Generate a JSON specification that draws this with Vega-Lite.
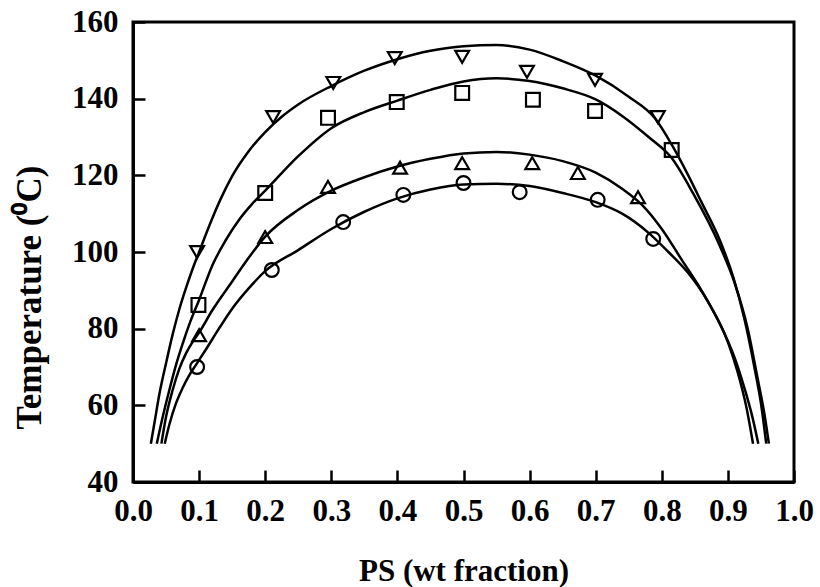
{
  "$schema": "https://vega.github.io/schema/vega-lite/v6.json",
  "width": 661,
  "height": 460,
  "autosize": {"type": "none"},
  "padding": {"left": 133, "top": 22, "right": 26, "bottom": 105},
  "background": "white",
  "config": {
    "view": {"stroke": "black", "strokeWidth": 3},
    "axis": {
      "grid": false,
      "domainColor": "black",
      "domainWidth": 3,
      "tickColor": "black",
      "tickWidth": 2.5,
      "tickSize": -12,
      "labelFont": "Liberation Serif",
      "labelFontWeight": "bold",
      "labelFontSize": 31,
      "labelColor": "black",
      "titleFont": "Liberation Serif",
      "titleFontWeight": "bold",
      "titleColor": "black"
    }
  },
  "datasets": {
    "curves": [
      {"s": "D", "x": 0.027, "t": 50}, {"s": "D", "x": 0.033, "t": 56}, {"s": "D", "x": 0.04, "t": 63}, {"s": "D", "x": 0.05, "t": 71}, {"s": "D", "x": 0.06, "t": 78.5}, {"s": "D", "x": 0.07, "t": 85}, {"s": "D", "x": 0.08, "t": 90.5}, {"s": "D", "x": 0.09, "t": 95.5}, {"s": "D", "x": 0.1, "t": 100}, {"s": "D", "x": 0.12, "t": 108.8}, {"s": "D", "x": 0.132, "t": 113.6}, {"s": "D", "x": 0.15, "t": 119.8}, {"s": "D", "x": 0.175, "t": 126.3}, {"s": "D", "x": 0.2, "t": 131.3}, {"s": "D", "x": 0.225, "t": 135.3}, {"s": "D", "x": 0.25, "t": 138.5}, {"s": "D", "x": 0.3, "t": 143.3}, {"s": "D", "x": 0.35, "t": 147.3}, {"s": "D", "x": 0.4, "t": 150.3}, {"s": "D", "x": 0.45, "t": 152.5}, {"s": "D", "x": 0.5, "t": 153.7}, {"s": "D", "x": 0.55, "t": 154}, {"s": "D", "x": 0.6, "t": 152.8}, {"s": "D", "x": 0.65, "t": 149.8}, {"s": "D", "x": 0.7, "t": 146}, {"s": "D", "x": 0.75, "t": 140.5}, {"s": "D", "x": 0.79, "t": 134.8}, {"s": "D", "x": 0.815, "t": 128}, {"s": "D", "x": 0.84, "t": 120}, {"s": "D", "x": 0.86, "t": 113}, {"s": "D", "x": 0.888, "t": 103}, {"s": "D", "x": 0.908, "t": 93.5}, {"s": "D", "x": 0.925, "t": 82.5}, {"s": "D", "x": 0.94, "t": 70}, {"s": "D", "x": 0.95, "t": 60.5}, {"s": "D", "x": 0.958, "t": 50},
      {"s": "S", "x": 0.036, "t": 50}, {"s": "S", "x": 0.045, "t": 57}, {"s": "S", "x": 0.055, "t": 64}, {"s": "S", "x": 0.065, "t": 70.5}, {"s": "S", "x": 0.075, "t": 76}, {"s": "S", "x": 0.086, "t": 81.5}, {"s": "S", "x": 0.1, "t": 87.5}, {"s": "S", "x": 0.12, "t": 96.5}, {"s": "S", "x": 0.14, "t": 103}, {"s": "S", "x": 0.16, "t": 108.3}, {"s": "S", "x": 0.18, "t": 112.5}, {"s": "S", "x": 0.2, "t": 116}, {"s": "S", "x": 0.25, "t": 125}, {"s": "S", "x": 0.3, "t": 132.3}, {"s": "S", "x": 0.35, "t": 136.5}, {"s": "S", "x": 0.4, "t": 139.5}, {"s": "S", "x": 0.45, "t": 142.3}, {"s": "S", "x": 0.5, "t": 144.5}, {"s": "S", "x": 0.55, "t": 145.3}, {"s": "S", "x": 0.6, "t": 144.6}, {"s": "S", "x": 0.65, "t": 142.7}, {"s": "S", "x": 0.7, "t": 139.8}, {"s": "S", "x": 0.74, "t": 135.5}, {"s": "S", "x": 0.78, "t": 130}, {"s": "S", "x": 0.815, "t": 124.5}, {"s": "S", "x": 0.847, "t": 115.4}, {"s": "S", "x": 0.888, "t": 101.5}, {"s": "S", "x": 0.91, "t": 92}, {"s": "S", "x": 0.93, "t": 80}, {"s": "S", "x": 0.945, "t": 67}, {"s": "S", "x": 0.955, "t": 58}, {"s": "S", "x": 0.962, "t": 50},
      {"s": "U", "x": 0.043, "t": 50}, {"s": "U", "x": 0.05, "t": 57}, {"s": "U", "x": 0.06, "t": 64}, {"s": "U", "x": 0.07, "t": 69.5}, {"s": "U", "x": 0.08, "t": 73.5}, {"s": "U", "x": 0.09, "t": 76.5}, {"s": "U", "x": 0.1, "t": 79}, {"s": "U", "x": 0.12, "t": 84.8}, {"s": "U", "x": 0.15, "t": 92.3}, {"s": "U", "x": 0.175, "t": 98.5}, {"s": "U", "x": 0.2, "t": 104}, {"s": "U", "x": 0.25, "t": 111}, {"s": "U", "x": 0.3, "t": 116}, {"s": "U", "x": 0.35, "t": 119.5}, {"s": "U", "x": 0.4, "t": 122.3}, {"s": "U", "x": 0.45, "t": 124.3}, {"s": "U", "x": 0.5, "t": 125.7}, {"s": "U", "x": 0.55, "t": 126.1}, {"s": "U", "x": 0.6, "t": 125.4}, {"s": "U", "x": 0.65, "t": 123.7}, {"s": "U", "x": 0.7, "t": 120.7}, {"s": "U", "x": 0.74, "t": 116.5}, {"s": "U", "x": 0.77, "t": 112.3}, {"s": "U", "x": 0.8, "t": 106}, {"s": "U", "x": 0.83, "t": 98}, {"s": "U", "x": 0.86, "t": 90}, {"s": "U", "x": 0.89, "t": 80.5}, {"s": "U", "x": 0.91, "t": 72.5}, {"s": "U", "x": 0.925, "t": 64.5}, {"s": "U", "x": 0.937, "t": 57}, {"s": "U", "x": 0.946, "t": 50},
      {"s": "C", "x": 0.048, "t": 50}, {"s": "C", "x": 0.055, "t": 55}, {"s": "C", "x": 0.065, "t": 60.5}, {"s": "C", "x": 0.075, "t": 64.5}, {"s": "C", "x": 0.085, "t": 67.8}, {"s": "C", "x": 0.095, "t": 70.5}, {"s": "C", "x": 0.11, "t": 74.5}, {"s": "C", "x": 0.13, "t": 80}, {"s": "C", "x": 0.15, "t": 85.2}, {"s": "C", "x": 0.175, "t": 90.5}, {"s": "C", "x": 0.2, "t": 95}, {"s": "C", "x": 0.25, "t": 100.5}, {"s": "C", "x": 0.3, "t": 106}, {"s": "C", "x": 0.35, "t": 110.5}, {"s": "C", "x": 0.4, "t": 114}, {"s": "C", "x": 0.45, "t": 116.3}, {"s": "C", "x": 0.5, "t": 117.6}, {"s": "C", "x": 0.55, "t": 117.8}, {"s": "C", "x": 0.6, "t": 117.2}, {"s": "C", "x": 0.65, "t": 115.4}, {"s": "C", "x": 0.7, "t": 113}, {"s": "C", "x": 0.74, "t": 110}, {"s": "C", "x": 0.78, "t": 105}, {"s": "C", "x": 0.81, "t": 100}, {"s": "C", "x": 0.84, "t": 94.5}, {"s": "C", "x": 0.87, "t": 87}, {"s": "C", "x": 0.9, "t": 76.5}, {"s": "C", "x": 0.915, "t": 68.5}, {"s": "C", "x": 0.928, "t": 59.5}, {"s": "C", "x": 0.938, "t": 50}
    ],
    "points": [
      {"s": "D", "x": 0.097, "t": 100}, {"s": "D", "x": 0.212, "t": 135.2}, {"s": "D", "x": 0.303, "t": 144.1}, {"s": "D", "x": 0.396, "t": 150.6}, {"s": "D", "x": 0.498, "t": 150.9}, {"s": "D", "x": 0.596, "t": 147}, {"s": "D", "x": 0.699, "t": 144.9}, {"s": "D", "x": 0.794, "t": 135.2},
      {"s": "S", "x": 0.099, "t": 86.2}, {"s": "S", "x": 0.2, "t": 115.4}, {"s": "S", "x": 0.295, "t": 135}, {"s": "S", "x": 0.399, "t": 139.1}, {"s": "S", "x": 0.498, "t": 141.5}, {"s": "S", "x": 0.605, "t": 139.7}, {"s": "S", "x": 0.699, "t": 136.8}, {"s": "S", "x": 0.815, "t": 126.6},
      {"s": "U", "x": 0.1, "t": 78.3}, {"s": "U", "x": 0.2, "t": 103.9}, {"s": "U", "x": 0.295, "t": 117}, {"s": "U", "x": 0.404, "t": 122}, {"s": "U", "x": 0.498, "t": 123.2}, {"s": "U", "x": 0.604, "t": 123.2}, {"s": "U", "x": 0.673, "t": 120.6}, {"s": "U", "x": 0.764, "t": 114.3},
      {"s": "C", "x": 0.097, "t": 70}, {"s": "C", "x": 0.21, "t": 95.3}, {"s": "C", "x": 0.318, "t": 107.8}, {"s": "C", "x": 0.409, "t": 114.9}, {"s": "C", "x": 0.5, "t": 118}, {"s": "C", "x": 0.585, "t": 115.6}, {"s": "C", "x": 0.703, "t": 113.6}, {"s": "C", "x": 0.787, "t": 103.4}
    ]
  },
  "encoding": {
    "x": {
      "field": "x", "type": "quantitative",
      "scale": {"domain": [0, 1], "nice": false, "zero": false},
      "axis": {
        "values": [0, 0.1, 0.2, 0.3, 0.4, 0.5, 0.6, 0.7, 0.8, 0.9, 1.0],
        "format": ".1f",
        "labelPadding": 26,
        "labelFlush": false,
        "title": "PS (wt fraction)",
        "titleFontSize": 31,
        "titleBaseline": "alphabetic",
        "titleY": 98
      }
    },
    "y": {
      "field": "t", "type": "quantitative",
      "scale": {"domain": [40, 160], "nice": false, "zero": false},
      "axis": {
        "values": [40, 60, 80, 100, 120, 140, 160],
        "labelPadding": 27,
        "labelFlush": false,
        "title": "Temperature (⁰C)",
        "titleFontSize": 35,
        "titleAngle": -90,
        "titleBaseline": "bottom",
        "titleX": -86,
        "titleY": 275
      }
    }
  },
  "layer": [
    {
      "data": {"name": "curves"},
      "mark": {"type": "line", "color": "black", "strokeWidth": 2.5, "interpolate": "monotone"},
      "encoding": {"detail": {"field": "s"}}
    },
    {
      "data": {"name": "points"},
      "mark": {"type": "point", "filled": false, "color": "black", "strokeWidth": 2.2, "size": 190, "opacity": 1},
      "encoding": {
        "shape": {
          "field": "s", "type": "nominal",
          "scale": {"domain": ["D", "S", "U", "C"], "range": ["triangle-down", "square", "triangle-up", "circle"]},
          "legend": null
        }
      }
    }
  ]
}
